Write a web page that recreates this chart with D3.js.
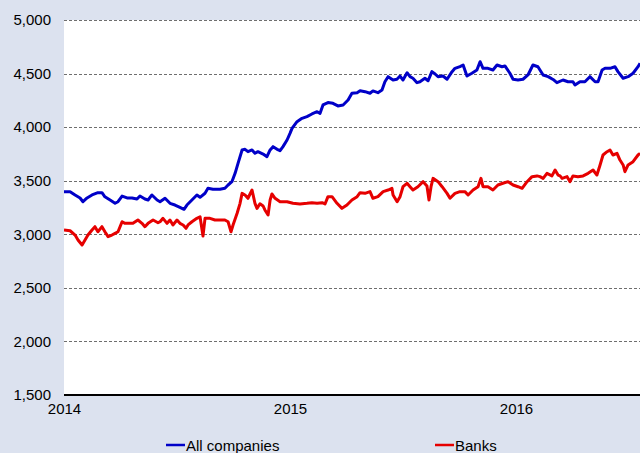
<!DOCTYPE html>
<html><head><meta charset="utf-8">
<script src="https://cdn.jsdelivr.net/npm/d3@7/dist/d3.min.js"></script>
<style>
html,body{margin:0;padding:0;background:#dce2ef;}
svg{display:block;font-family:"Liberation Sans",Arial,sans-serif;}
</style></head>
<body>
<svg id="chart" width="640" height="453"></svg>
<script>
// time in fractional years
const allTime = [2014.000,2014.027,2014.049,2014.071,2014.084,2014.102,2014.124,2014.150,2014.168,2014.181,2014.204,2014.226,2014.239,2014.257,2014.279,2014.301,2014.323,2014.336,2014.358,2014.372,2014.389,2014.412,2014.425,2014.447,2014.469,2014.491,2014.513,2014.531,2014.544,2014.566,2014.588,2014.602,2014.624,2014.637,2014.659,2014.690,2014.712,2014.726,2014.743,2014.757,2014.770,2014.788,2014.801,2014.814,2014.832,2014.845,2014.858,2014.881,2014.898,2014.912,2014.925,2014.943,2014.956,2014.969,2014.987,2015.000,2015.009,2015.031,2015.053,2015.075,2015.097,2015.120,2015.133,2015.146,2015.168,2015.190,2015.212,2015.235,2015.257,2015.274,2015.297,2015.310,2015.332,2015.354,2015.367,2015.389,2015.407,2015.420,2015.434,2015.456,2015.473,2015.487,2015.500,2015.518,2015.531,2015.544,2015.562,2015.575,2015.597,2015.611,2015.628,2015.642,2015.655,2015.677,2015.695,2015.717,2015.730,2015.752,2015.766,2015.783,2015.805,2015.827,2015.841,2015.854,2015.876,2015.898,2015.916,2015.938,2015.951,2015.973,2015.987,2016.009,2016.031,2016.053,2016.075,2016.097,2016.120,2016.142,2016.164,2016.181,2016.208,2016.230,2016.252,2016.261,2016.283,2016.305,2016.327,2016.350,2016.363,2016.381,2016.394,2016.416,2016.438,2016.451,2016.474,2016.496,2016.518,2016.540,2016.549];
const allValues = [3398,3398,3367,3339,3304,3339,3367,3388,3388,3350,3320,3290,3304,3357,3339,3339,3329,3357,3329,3320,3367,3320,3304,3336,3289,3273,3251,3233,3273,3320,3367,3345,3383,3429,3420,3420,3429,3460,3491,3569,3662,3787,3793,3771,3787,3756,3771,3749,3724,3787,3818,3793,3780,3818,3880,3942,3989,4051,4082,4098,4123,4144,4129,4207,4229,4222,4198,4207,4253,4316,4322,4340,4331,4316,4338,4322,4347,4424,4471,4440,4447,4477,4440,4508,4471,4456,4415,4424,4456,4433,4518,4496,4471,4477,4447,4518,4549,4565,4580,4477,4503,4533,4611,4549,4549,4533,4580,4564,4571,4503,4447,4440,4447,4487,4580,4564,4487,4471,4445,4415,4440,4424,4424,4393,4424,4424,4471,4424,4424,4533,4549,4549,4564,4518,4456,4471,4503,4564,4596];

const bankTime = [2014.000,2014.027,2014.049,2014.062,2014.080,2014.093,2014.106,2014.124,2014.137,2014.150,2014.168,2014.181,2014.195,2014.212,2014.226,2014.239,2014.257,2014.270,2014.283,2014.305,2014.327,2014.345,2014.358,2014.372,2014.394,2014.416,2014.425,2014.438,2014.456,2014.469,2014.482,2014.500,2014.513,2014.527,2014.540,2014.549,2014.566,2014.588,2014.602,2014.615,2014.624,2014.646,2014.668,2014.690,2014.712,2014.726,2014.739,2014.748,2014.766,2014.779,2014.788,2014.801,2014.814,2014.832,2014.845,2014.854,2014.867,2014.881,2014.889,2014.903,2014.912,2014.920,2014.934,2014.956,2014.987,2015.013,2015.044,2015.075,2015.097,2015.120,2015.142,2015.155,2015.168,2015.186,2015.208,2015.230,2015.252,2015.274,2015.297,2015.310,2015.332,2015.354,2015.367,2015.389,2015.412,2015.434,2015.451,2015.456,2015.474,2015.487,2015.500,2015.518,2015.531,2015.544,2015.566,2015.589,2015.606,2015.615,2015.624,2015.633,2015.655,2015.673,2015.695,2015.708,2015.730,2015.752,2015.774,2015.788,2015.810,2015.832,2015.845,2015.854,2015.876,2015.898,2015.920,2015.942,2015.965,2015.987,2016.009,2016.027,2016.049,2016.071,2016.093,2016.106,2016.120,2016.137,2016.159,2016.173,2016.186,2016.195,2016.204,2016.226,2016.239,2016.252,2016.274,2016.297,2016.319,2016.341,2016.358,2016.372,2016.385,2016.403,2016.416,2016.429,2016.447,2016.460,2016.474,2016.482,2016.496,2016.518,2016.540,2016.549];
const bankValues = [3040,3033,2993,2947,2900,2947,2993,3040,3071,3024,3071,3024,2978,2993,3009,3024,3117,3102,3102,3102,3133,3102,3071,3102,3133,3108,3117,3149,3102,3133,3087,3133,3102,3087,3056,3087,3117,3149,3164,2984,3149,3149,3133,3133,3133,3117,3024,3087,3196,3289,3382,3367,3336,3413,3289,3242,3285,3264,3227,3180,3320,3376,3336,3304,3304,3289,3283,3289,3295,3289,3295,3283,3351,3351,3289,3242,3273,3320,3351,3388,3382,3398,3336,3351,3398,3413,3429,3367,3304,3351,3444,3476,3444,3413,3444,3491,3451,3320,3444,3522,3491,3444,3382,3336,3382,3398,3398,3367,3413,3444,3522,3444,3444,3413,3460,3476,3491,3460,3444,3429,3491,3538,3545,3538,3522,3569,3545,3600,3553,3545,3522,3538,3491,3545,3538,3545,3569,3600,3553,3647,3740,3771,3787,3740,3756,3693,3647,3584,3647,3678,3740,3756];

const yTicks = [1500,2000,2500,3000,3500,4000,4500,5000];
const xTicks = [2014,2015,2016];
const seriesNames = ["All companies","Banks"];
const seriesColors = ["#0000c8","#e60000"];

const svg = d3.select("#chart");
const pL = 64, pR = 640, pT = 20, pB = 395;

const x = d3.scaleLinear().domain([2014, 2014 + (pR-pL)/226]).range([pL, pR]);
const y = d3.scaleLinear().domain([1500, 5000]).range([pB, pT]);

svg.append("rect").attr("x",0).attr("y",0).attr("width",640).attr("height",453).attr("fill","#dce2ef");
svg.append("rect").attr("x",pL).attr("y",pT).attr("width",pR-pL).attr("height",pB-pT).attr("fill","#ffffff");

// gridlines
svg.append("g").selectAll("line").data(yTicks.filter(d=>d>1500)).join("line")
  .attr("x1",pL).attr("x2",pR)
  .attr("y1",d=>Math.round(y(d))+0.5).attr("y2",d=>Math.round(y(d))+0.5)
  .attr("stroke","#6e6e6e").attr("stroke-width",1).attr("stroke-dasharray","3,2");

// y axis labels
const yAxis = d3.axisLeft(y).tickValues(yTicks).tickSize(0).tickPadding(13).tickFormat(d3.format(","));
const gy = svg.append("g").attr("transform",`translate(${pL},0)`).call(yAxis);
gy.select(".domain").remove();
gy.selectAll("text").attr("font-size",15).attr("fill","#000").attr("font-family","'Liberation Sans',Arial,sans-serif");

// x axis
const xAxis = d3.axisBottom(x).tickValues(xTicks).tickSize(0).tickPadding(8).tickFormat(d3.format("d"));
const gx = svg.append("g").attr("transform",`translate(0,${pB})`).call(xAxis);
gx.select(".domain").remove();
gx.selectAll("text").attr("font-size",15).attr("fill","#000").attr("font-family","'Liberation Sans',Arial,sans-serif");

const line = d3.line().x(d=>x(d[0])).y(d=>y(d[1]));
svg.append("clipPath").attr("id","clip").append("rect")
  .attr("x",pL).attr("y",pT-5).attr("width",pR-pL).attr("height",pB-pT+5);

const series = [d3.zip(allTime, allValues), d3.zip(bankTime, bankValues)];
svg.append("g").attr("clip-path","url(#clip)").selectAll("path").data(series).join("path")
  .attr("d",line).attr("fill","none")
  .attr("stroke",(d,i)=>seriesColors[i]).attr("stroke-width",3)
  .attr("stroke-linejoin","round");

// bottom axis line
svg.append("line").attr("x1",pL).attr("x2",pR).attr("y1",pB).attr("y2",pB)
  .attr("stroke","#000").attr("stroke-width",2.2);

// legend
const legX = [166, 435];
const lg = svg.append("g").selectAll("g").data(seriesNames).join("g")
  .attr("transform",(d,i)=>`translate(${legX[i]},445)`);
lg.append("line").attr("x1",0).attr("x2",19).attr("y1",0).attr("y2",0)
  .attr("stroke",(d,i)=>seriesColors[i]).attr("stroke-width",2.5);
lg.append("text").attr("x",20).attr("y",5.5).attr("font-size",15).text(d=>d);
</script>
</body></html>
